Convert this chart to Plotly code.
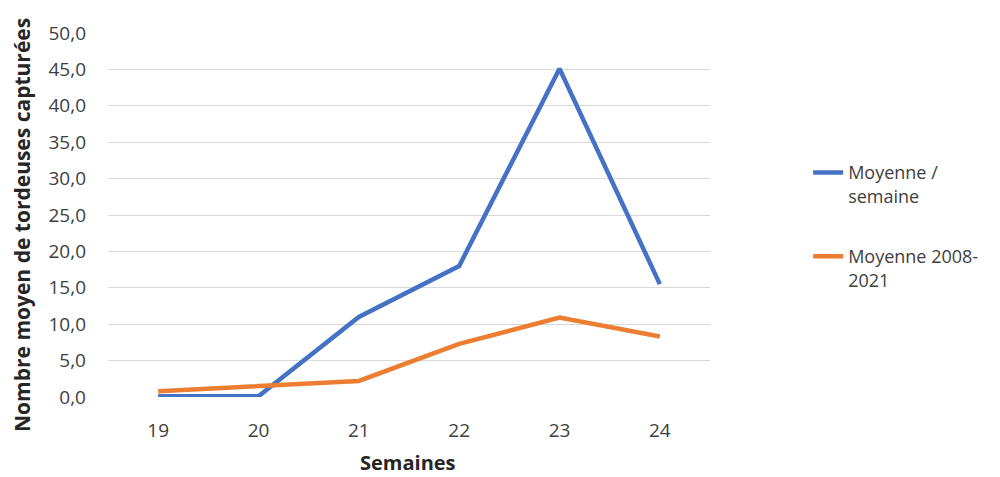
import plotly.graph_objects as go

semaines = ["19", "20", "21", "22", "23", "24"]
moyenne_semaine = [0.1, 0.1, 11.0, 18.0, 45.1, 15.5]
moyenne_2008_2021 = [0.8, 1.5, 2.2, 7.3, 10.9, 8.3]
y_ticks = [0, 5, 10, 15, 20, 25, 30, 35, 40, 45, 50]

FONT = "Open Sans"
TXT = "#404040"

fig = go.Figure()
fig.add_trace(go.Scatter(
    x=semaines, y=moyenne_semaine, mode="lines",
    name="Moyenne /<br>semaine", legendgroup="a",
    line=dict(color="#4472C4", width=4.5),
))
fig.add_trace(go.Scatter(
    x=semaines, y=moyenne_2008_2021, mode="lines",
    name="Moyenne 2008-<br>2021", legendgroup="b",
    line=dict(color="#ED7D31", width=4.5),
))

fig.update_layout(
    width=992, height=469,
    margin=dict(l=100, r=290, t=25, b=80),
    paper_bgcolor="white", plot_bgcolor="white",
    separators=", ",
    font=dict(family=FONT, size=18, color=TXT),
    showlegend=True,
    legend=dict(
        x=1.163, y=0.667, xanchor="left", yanchor="top",
        font=dict(family=FONT, size=18, color=TXT),
        tracegroupgap=34, valign="top",
        bgcolor="rgba(0,0,0,0)",
    ),
    xaxis=dict(
        type="category", range=[-0.5, 5.5], automargin=False,
        showgrid=False, showline=False, zeroline=False,
        ticks="", ticklabelstandoff=20,
        tickfont=dict(family=FONT, size=19, color=TXT),
    ),
    yaxis=dict(
        range=[0, 50], tickvals=y_ticks, tickformat=".1f", automargin=False,
        showgrid=True, gridcolor="#D9D9D9", gridwidth=1,
        zeroline=False, showline=False, ticks="", ticklabelstandoff=21,
        tickfont=dict(family=FONT, size=19, color=TXT),
    ),
    annotations=[
        dict(text="<b>Nombre moyen de tordeuses capturées</b>", textangle=-90,
             xref="paper", yref="paper", x=-0.1429, y=0.4725,
             xanchor="center", yanchor="middle", showarrow=False,
             font=dict(family=FONT, size=21, color="#262626")),
        dict(text="<b>Semaines</b>",
             xref="paper", yref="paper", x=0.498, y=-0.181,
             xanchor="center", yanchor="middle", showarrow=False,
             font=dict(family=FONT, size=20, color="#262626")),
    ],
)

fig.write_html("out.html")
